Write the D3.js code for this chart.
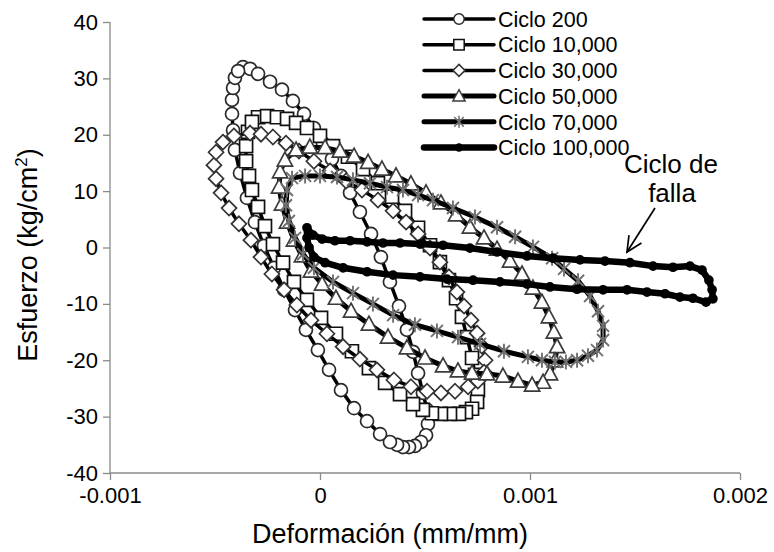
<!DOCTYPE html>
<html lang="es">
<head>
<meta charset="UTF-8">
<title>Esfuerzo vs Deformación</title>
<script src="https://d3js.org/d3.v7.min.js"></script>
<style>
  body { margin: 0; background: #fff; }
  text { font-family: "Liberation Sans", Arial, sans-serif; fill: #000; }
</style>
</head>
<body>
<svg id="chart"></svg>
<script>
const W = 774, H = 552;

// ticks
const xTicks = [-0.001, 0, 0.001, 0.002];
const yTicks = [-40, -30, -20, -10, 0, 10, 20, 30, 40];

// series names
const seriesNames = ["Ciclo 200", "Ciclo 10,000", "Ciclo 30,000", "Ciclo 50,000", "Ciclo 70,000", "Ciclo 100,000"];

// [deformación mm/mm, esfuerzo kg/cm2]
const ciclo200 = [
  [-0.000367, 32.0], [-0.000333, 31.7], [-0.000295, 30.8], [-0.000238, 29.4], [-0.000181, 28.0],
  [-0.000129, 26.0], [-0.000076, 23.7], [-0.000029, 21.2], [0.000014, 18.5], [0.000057, 15.7],
  [0.000100, 12.7], [0.000143, 9.7], [0.000190, 6.3], [0.000243, 2.4], [0.000290, -1.7],
  [0.000333, -6.1], [0.000376, -10.4], [0.000414, -14.6], [0.000443, -18.5], [0.000467, -22.3],
  [0.000490, -25.8], [0.000510, -28.8], [0.000514, -31.3], [0.000505, -33.3], [0.000481, -34.5],
  [0.000452, -35.2], [0.000424, -35.4], [0.000395, -35.4], [0.000367, -35.0], [0.000333, -34.5],
  [0.000286, -33.1], [0.000224, -30.8], [0.000162, -28.5], [0.000100, -25.3], [0.000043, -21.7],
  [-0.000010, -18.2], [-0.000067, -14.6], [-0.000119, -11.1], [-0.000171, -7.5], [-0.000219, -3.6],
  [-0.000267, 0.3], [-0.000310, 4.5], [-0.000348, 8.8], [-0.000381, 13.2], [-0.000405, 17.3],
  [-0.000414, 20.8], [-0.000419, 23.7], [-0.000419, 26.2], [-0.000414, 28.3], [-0.000405, 30.1],
  [-0.000390, 31.3]
];

const ciclo10000 = [
  [-0.000295, 23.1], [-0.000252, 23.3], [-0.000205, 23.1], [-0.000157, 22.8], [-0.000114, 22.1],
  [-0.000062, 21.2], [0.000000, 19.8], [0.000062, 18.0], [0.000133, 16.1], [0.000205, 13.9],
  [0.000276, 11.4], [0.000343, 9.0], [0.000405, 6.5], [0.000467, 3.5], [0.000524, 0.4],
  [0.000571, -2.6], [0.000614, -5.8], [0.000648, -9.0], [0.000676, -12.3], [0.000700, -15.9],
  [0.000724, -19.6], [0.000738, -22.6], [0.000752, -25.3], [0.000748, -27.4], [0.000724, -28.6],
  [0.000695, -29.2], [0.000662, -29.5], [0.000619, -29.5], [0.000576, -29.5], [0.000533, -29.4],
  [0.000490, -28.8], [0.000443, -27.8], [0.000381, -26.0], [0.000310, -24.0], [0.000233, -21.4],
  [0.000152, -18.4], [0.000076, -15.3], [0.000005, -12.5], [-0.000062, -9.3], [-0.000124, -6.1],
  [-0.000176, -2.7], [-0.000224, 0.6], [-0.000262, 3.8], [-0.000295, 7.2], [-0.000324, 10.2],
  [-0.000338, 12.7], [-0.000352, 15.3], [-0.000352, 18.0], [-0.000343, 20.5], [-0.000324, 22.3]
];

const ciclo30000 = [
  [-0.000333, 20.3], [-0.000281, 20.1], [-0.000224, 19.6], [-0.000162, 18.5], [-0.000100, 17.1],
  [-0.000029, 15.3], [0.000048, 13.6], [0.000124, 11.8], [0.000200, 10.2], [0.000276, 8.4],
  [0.000348, 6.5], [0.000410, 4.5], [0.000467, 2.4], [0.000524, -0.1], [0.000571, -2.6],
  [0.000614, -5.2], [0.000652, -7.9], [0.000686, -10.4], [0.000719, -12.9], [0.000748, -15.2],
  [0.000771, -17.5], [0.000786, -20.0], [0.000781, -22.1], [0.000752, -23.7], [0.000705, -24.7],
  [0.000643, -25.5], [0.000576, -25.8], [0.000510, -25.5], [0.000433, -24.7], [0.000352, -23.5],
  [0.000271, -21.7], [0.000190, -19.8], [0.000110, -17.6], [0.000033, -15.3], [-0.000043, -12.9],
  [-0.000110, -10.2], [-0.000171, -7.5], [-0.000229, -4.7], [-0.000281, -1.7], [-0.000329, 1.3],
  [-0.000386, 4.2], [-0.000433, 7.0], [-0.000471, 9.7], [-0.000495, 12.2], [-0.000505, 14.6],
  [-0.000495, 16.9], [-0.000462, 18.7], [-0.000410, 19.8]
];

const ciclo50000 = [
  [-0.000114, 17.3], [-0.000048, 17.8], [0.000024, 17.7], [0.000095, 17.1], [0.000162, 16.2],
  [0.000229, 15.1], [0.000295, 13.9], [0.000362, 12.7], [0.000433, 11.3], [0.000505, 9.7],
  [0.000576, 7.9], [0.000648, 5.8], [0.000714, 3.6], [0.000781, 1.7], [0.000843, -0.3],
  [0.000905, -2.4], [0.000962, -4.7], [0.001014, -7.2], [0.001057, -9.7], [0.001090, -12.3],
  [0.001114, -15.0], [0.001129, -17.6], [0.001119, -20.1], [0.001095, -22.4], [0.001062, -23.9],
  [0.001010, -24.4], [0.000943, -23.7], [0.000871, -22.8], [0.000795, -22.4], [0.000724, -22.3],
  [0.000657, -21.9], [0.000586, -21.0], [0.000500, -19.6], [0.000414, -17.8], [0.000324, -15.9],
  [0.000233, -13.6], [0.000148, -11.3], [0.000076, -9.0], [0.000010, -6.5], [-0.000043, -4.2],
  [-0.000086, -1.5], [-0.000124, 1.3], [-0.000157, 4.5], [-0.000181, 7.7], [-0.000195, 10.7],
  [-0.000190, 13.4], [-0.000167, 15.5]
];

const ciclo70000 = [
  [-0.000133, 12.3], [-0.000071, 12.7], [0.000000, 12.7], [0.000081, 12.5], [0.000157, 12.0],
  [0.000238, 11.4], [0.000319, 10.7], [0.000395, 10.2], [0.000467, 9.3], [0.000538, 8.4],
  [0.000633, 7.0], [0.000738, 5.4], [0.000843, 3.6], [0.000929, 1.9], [0.001014, 0.1],
  [0.001105, -1.9], [0.001162, -3.8], [0.001229, -5.9], [0.001286, -8.6], [0.001324, -11.3],
  [0.001348, -13.9], [0.001348, -16.4], [0.001319, -18.2], [0.001276, -19.2], [0.001224, -20.0],
  [0.001171, -20.3], [0.001119, -20.3], [0.001057, -20.0], [0.000990, -19.4], [0.000876, -18.4],
  [0.000762, -17.1], [0.000657, -15.9], [0.000557, -14.8], [0.000452, -13.7], [0.000348, -12.0],
  [0.000252, -10.0], [0.000157, -8.1], [0.000062, -6.1], [-0.000029, -3.6], [-0.000081, -1.2],
  [-0.000119, 1.7], [-0.000148, 4.7], [-0.000162, 7.5], [-0.000157, 10.2]
];

const ciclo100000 = [
  [-0.000062, 3.5], [-0.000033, 2.2], [0.000010, 1.5], [0.000071, 1.2], [0.000143, 1.2],
  [0.000224, 1.0], [0.000300, 0.8], [0.000381, 0.8], [0.000476, 0.6], [0.000586, 0.4],
  [0.000714, -0.1], [0.000843, -0.8], [0.000986, -1.5], [0.001110, -1.9], [0.001238, -2.2],
  [0.001357, -2.4], [0.001476, -2.7], [0.001586, -3.3], [0.001681, -3.5], [0.001762, -3.3],
  [0.001819, -4.0], [0.001852, -5.8], [0.001867, -7.5], [0.001871, -9.1], [0.001838, -9.7],
  [0.001776, -9.0], [0.001714, -8.8], [0.001643, -8.2], [0.001557, -7.9], [0.001462, -7.5],
  [0.001348, -7.5], [0.001224, -7.4], [0.001095, -7.0], [0.000986, -6.5], [0.000857, -6.1],
  [0.000729, -5.8], [0.000605, -5.6], [0.000476, -5.2], [0.000348, -4.9], [0.000224, -4.3],
  [0.000110, -3.6], [0.000024, -2.7], [-0.000029, -1.7], [-0.000052, 0.0], [-0.000062, 1.7]
];

const seriesData = [ciclo200, ciclo10000, ciclo30000, ciclo50000, ciclo70000, ciclo100000];

// look of each series
const styles = [
  { marker: "circle",   r: 6.5, stroke: "#2a2a2a", fill: "#fff", lw: 3.5 },
  { marker: "square",   r: 6.5, stroke: "#111",    fill: "#fff", lw: 3.5 },
  { marker: "diamond",  r: 7.5, stroke: "#333",    fill: "#fff", lw: 3.5 },
  { marker: "triangle", r: 8,   stroke: "#3c3c3c", fill: "#fff", lw: 5 },
  { marker: "asterisk", r: 7.5, stroke: "#707070", fill: "none", lw: 5 },
  { marker: "circle",   r: 4,   stroke: "#000",    fill: "#000", lw: 6.5 }
];

const svg = d3.select("#chart").attr("width", W).attr("height", H);
svg.append("rect").attr("width", W).attr("height", H).attr("fill", "#fff");

const x = d3.scaleLinear().domain([-0.001, 0.002]).range([110, 740]);
const y = d3.scaleLinear().domain([-40, 40]).range([473, 22]);

function markerPath(type, r) {
  if (type === "circle") return d3.symbol().type(d3.symbolCircle).size(Math.PI * r * r)();
  if (type === "square") return `M${-r},${-r}h${2 * r}v${2 * r}h${-2 * r}Z`;
  if (type === "diamond") return `M0,${-r}L${r},0L0,${r}L${-r},0Z`;
  if (type === "triangle") return `M0,${-r}L${r * 0.95},${r * 0.75}L${-r * 0.95},${r * 0.75}Z`;
  // asterisk: x with a vertical bar
  const k = r * 0.8;
  return `M${-k},${-k}L${k},${k}M${-k},${k}L${k},${-k}M0,${-r}L0,${r}`;
}

// axes
const xAxis = d3.axisBottom(x).tickValues(xTicks).tickFormat(d => String(d)).tickSize(7).tickPadding(7);
const yAxis = d3.axisLeft(y).tickValues(yTicks).tickFormat(d => String(d)).tickSize(7).tickPadding(5);

const gx = svg.append("g").attr("transform", `translate(0,${y(-40)})`).call(xAxis);
const gy = svg.append("g").attr("transform", `translate(${x(-0.001)},0)`).call(yAxis);
[gx, gy].forEach(g => {
  g.select(".domain").attr("stroke", "#8a8a8a").attr("stroke-width", 1.3);
  g.selectAll(".tick line").attr("stroke", "#8a8a8a").attr("stroke-width", 1.3);
  g.selectAll(".tick text").attr("font-size", 22).attr("fill", "#000")
    .attr("font-family", '"Liberation Sans", Arial, sans-serif');
});
gx.select(".domain").attr("d", `M${x(-0.001)},0H${x(0.002)}`);
gy.select(".domain").attr("d", `M0,${y(-40)}V${y(40)}`);

// series
const line = d3.line().x(d => x(d[0])).y(d => y(d[1])).curve(d3.curveLinearClosed);
const plot = svg.append("g");

seriesData.forEach((data, i) => {
  const s = styles[i];
  const g = plot.append("g");
  g.append("path").datum(data)
    .attr("d", line)
    .attr("fill", "none")
    .attr("stroke", "#000")
    .attr("stroke-width", s.lw)
    .attr("stroke-linejoin", "round");
  g.selectAll("path.mk").data(data).join("path")
    .attr("class", "mk")
    .attr("transform", d => `translate(${x(d[0])},${y(d[1])})`)
    .attr("d", markerPath(s.marker, s.r))
    .attr("fill", s.fill)
    .attr("stroke", s.stroke)
    .attr("stroke-width", s.marker === "asterisk" ? 1.9 : 1.7);
});

// legend
const legend = svg.append("g");
seriesNames.forEach((name, i) => {
  const s = styles[i];
  const ly = 19 + i * 25.7;
  legend.append("line")
    .attr("x1", 424).attr("x2", 494).attr("y1", ly).attr("y2", ly)
    .attr("stroke", "#000").attr("stroke-width", s.lw).attr("stroke-linecap", "round");
  legend.append("path")
    .attr("transform", `translate(459,${ly})`)
    .attr("d", markerPath(s.marker, i === 5 ? 3.5 : s.r * 0.8))
    .attr("fill", s.fill)
    .attr("stroke", s.stroke)
    .attr("stroke-width", 1.5);
  legend.append("text")
    .attr("x", 498).attr("y", ly).attr("dy", "0.36em")
    .attr("font-size", 21.5)
    .text(name);
});

// axis titles
svg.append("text")
  .attr("x", 390).attr("y", 543)
  .attr("text-anchor", "middle")
  .attr("font-size", 27)
  .text("Deformación (mm/mm)");

const yt = svg.append("text")
  .attr("transform", "translate(37,255) rotate(-90)")
  .attr("text-anchor", "middle")
  .attr("font-size", 27);
yt.append("tspan").text("Esfuerzo (kg/cm");
yt.append("tspan").attr("font-size", 17).attr("dy", -10).text("2");
yt.append("tspan").attr("dy", 10).text(")");

// annotation
svg.append("text").attr("x", 671).attr("y", 173).attr("text-anchor", "middle")
  .attr("font-size", 26).text("Ciclo de");
svg.append("text").attr("x", 672).attr("y", 202).attr("text-anchor", "middle")
  .attr("font-size", 26).text("falla");

const tip = [627, 252], tail = [655, 208];
svg.append("line")
  .attr("x1", tail[0]).attr("y1", tail[1]).attr("x2", tip[0]).attr("y2", tip[1])
  .attr("stroke", "#000").attr("stroke-width", 1.7);
const ang = Math.atan2(tail[1] - tip[1], tail[0] - tip[0]);
const hl = 17, ha = 0.45;
svg.append("path")
  .attr("d", `M${tip[0] + hl * Math.cos(ang - ha)},${tip[1] + hl * Math.sin(ang - ha)}` +
             `L${tip[0]},${tip[1]}` +
             `L${tip[0] + hl * Math.cos(ang + ha)},${tip[1] + hl * Math.sin(ang + ha)}`)
  .attr("fill", "none").attr("stroke", "#000").attr("stroke-width", 1.7);
</script>
</body>
</html>
